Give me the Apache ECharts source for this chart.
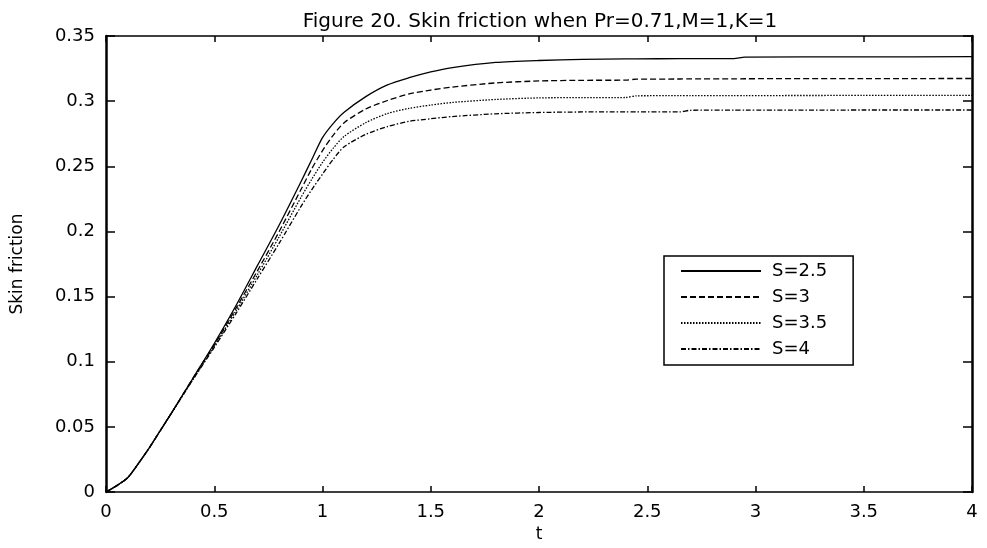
<!DOCTYPE html>
<html>
<head>
<meta charset="utf-8">
<script src="https://cdn.jsdelivr.net/npm/echarts@6/dist/echarts.min.js"></script>
<style>
html,body{margin:0;padding:0;background:#fff;}
#chart{width:987px;height:548px;}
</style>
</head>
<body>
<div id="chart"></div>
<script>
const tValues = [0, 0.05, 0.1, 0.15, 0.2, 0.25, 0.3, 0.4, 0.5, 0.6, 0.7, 0.8, 0.9, 0.95, 1.0, 1.05, 1.1, 1.2, 1.3, 1.4, 1.5, 1.6, 1.8, 2.0, 2.2, 2.4, 2.45, 2.65, 2.7, 2.9, 2.95, 3.5, 4.0];
const s25 = [0, 0.005, 0.011, 0.022, 0.034, 0.047, 0.060, 0.087, 0.114, 0.143, 0.174, 0.205, 0.238, 0.255, 0.272, 0.283, 0.2915, 0.3035, 0.3125, 0.3180, 0.3225, 0.3258, 0.3297, 0.3312, 0.3320, 0.3324, 0.3325, 0.3326, 0.3327, 0.3327, 0.3338, 0.3340, 0.3341];
const s3 = [0, 0.005, 0.011, 0.022, 0.034, 0.047, 0.060, 0.087, 0.113, 0.141, 0.170, 0.200, 0.232, 0.248, 0.262, 0.274, 0.2835, 0.2940, 0.3005, 0.3055, 0.3085, 0.3108, 0.3140, 0.3155, 0.3160, 0.3161, 0.3169, 0.3170, 0.3171, 0.3171, 0.3172, 0.3173, 0.3174];
const s35 = [0, 0.005, 0.011, 0.022, 0.034, 0.047, 0.060, 0.086, 0.112, 0.139, 0.167, 0.196, 0.226, 0.240, 0.253, 0.264, 0.273, 0.2835, 0.2905, 0.2945, 0.2970, 0.2990, 0.3013, 0.3025, 0.3027, 0.3028, 0.3041, 0.3042, 0.3042, 0.3043, 0.3043, 0.3044, 0.3045];
const s4 = [0, 0.005, 0.011, 0.022, 0.034, 0.047, 0.060, 0.086, 0.111, 0.137, 0.164, 0.191, 0.219, 0.232, 0.244, 0.2555, 0.2650, 0.2745, 0.2805, 0.2845, 0.2865, 0.2882, 0.2903, 0.2913, 0.2917, 0.2918, 0.2918, 0.2918, 0.2930, 0.2931, 0.2931, 0.2932, 0.2932];
const seriesNames = ['S=2.5', 'S=3', 'S=3.5', 'S=4'];
const xTicks = [0, 0.5, 1, 1.5, 2, 2.5, 3, 3.5, 4];
const yTicks = [0, 0.05, 0.1, 0.15, 0.2, 0.25, 0.3, 0.35];

const FONT = 'DejaVu Sans';
const allSeries = [s25, s3, s35, s4];
const dashTypes = ['solid', [6, 3], [1.5, 1.5], [5, 2, 1.5, 2]];

const chart = echarts.init(document.getElementById('chart'), null, {renderer: 'canvas'});
const fmt = v => String(+(+v).toFixed(2));

const option = {
  backgroundColor: '#fff',
  animation: false,
  title: {
    text: 'Figure 20. Skin friction when Pr=0.71,M=1,K=1',
    left: 535, top: 7, textAlign: 'center',
    textStyle: {fontFamily: FONT, fontSize: 20, fontWeight: 'normal', color: '#000'}
  },
  grid: {left: 106, right: 15, top: 36, bottom: 47, containLabel: false},
  legend: {
    orient: 'vertical', left: 664, top: 256,
    data: seriesNames,
    itemWidth: 80, itemHeight: 18, itemGap: 8,
    padding: [6, 26, 7, 16],
    borderColor: '#000', borderWidth: 1.5, backgroundColor: '#fff',
    itemStyle: {opacity: 0},
    textStyle: {fontFamily: FONT, fontSize: 18, color: '#000', padding: [0, 0, 0, 6]}
  },
  xAxis: [{
    type: 'value', min: xTicks[0], max: xTicks[xTicks.length - 1], interval: 0.5,
    name: 't', nameLocation: 'middle', nameGap: 22,
    nameTextStyle: {fontFamily: FONT, fontSize: 17, color: '#000'},
    axisLine: {show: true, onZero: false, lineStyle: {color: '#000', width: 1.5}},
    axisTick: {show: true, inside: true, length: 6, lineStyle: {color: '#000', width: 1.5}},
    axisLabel: {fontFamily: FONT, fontSize: 18, color: '#000', margin: 11, formatter: fmt},
    splitLine: {show: false}
  }, {
    type: 'value', position: 'top', min: xTicks[0], max: xTicks[xTicks.length - 1], interval: 0.5,
    axisLine: {show: true, onZero: false, lineStyle: {color: '#000', width: 1.5}},
    axisTick: {show: true, inside: true, length: 6, lineStyle: {color: '#000', width: 1.5}},
    axisLabel: {show: false}, splitLine: {show: false}
  }],
  yAxis: [{
    type: 'value', min: yTicks[0], max: yTicks[yTicks.length - 1], interval: 0.05,
    name: 'Skin friction', nameLocation: 'middle', nameGap: 80,
    nameTextStyle: {fontFamily: FONT, fontSize: 17, color: '#000'},
    axisLine: {show: true, onZero: false, lineStyle: {color: '#000', width: 2.5}},
    axisTick: {show: true, inside: true, length: 9, lineStyle: {color: '#000', width: 1.5}},
    axisLabel: {fontFamily: FONT, fontSize: 18, color: '#000', margin: 11, formatter: fmt},
    splitLine: {show: false}
  }, {
    type: 'value', position: 'right', min: yTicks[0], max: yTicks[yTicks.length - 1], interval: 0.05,
    axisLine: {show: true, onZero: false, lineStyle: {color: '#000', width: 2.5}},
    axisTick: {show: true, inside: true, length: 9, lineStyle: {color: '#000', width: 1.5}},
    axisLabel: {show: false}, splitLine: {show: false}
  }],
  series: seriesNames.map((name, i) => ({
    name: name,
    type: 'line',
    xAxisIndex: 0, yAxisIndex: 0,
    data: tValues.map((t, j) => [t, allSeries[i][j]]),
    symbol: 'none',
    smooth: 0.25,
    color: '#000',
    lineStyle: {color: '#000', width: 1.3, type: dashTypes[i]}
  }))
};
chart.setOption(option);
</script>
</body>
</html>
